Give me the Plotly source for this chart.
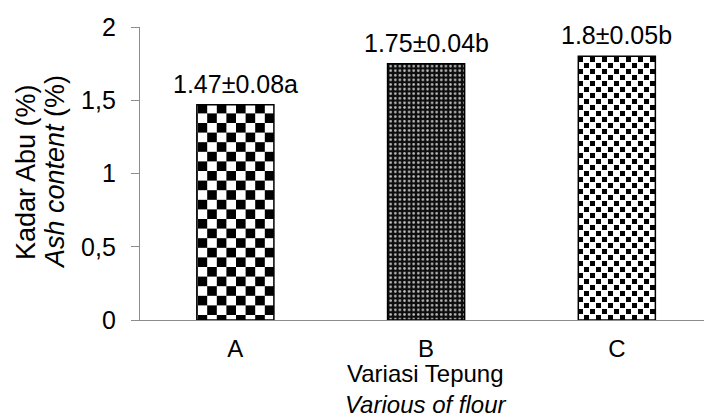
import plotly.graph_objects as go

categories = ["A", "B", "C"]
values = [1.47, 1.75, 1.80]
labels = ["1.47±0.08a", "1.75±0.04b", "1.8±0.05b"]
ytick_vals = [0, 0.5, 1, 1.5, 2]
ytick_text = ["0", "0,5", "1", "1,5", "2"]

FONT = "Liberation Sans, Arial, sans-serif"

# patterns
def checker(s):
    h = s / 2
    return f"M0,0H{h}V{h}H0Z M{h},{h}H{s}V{s}H{h}Z"

def stagger(s, q):
    h = s / 2
    return (f"M0,0H{q}V{q}H0Z M{h},{h}H{h+q}V{h+q}H{h}Z")

pattern_specs = [
    dict(kind="path", path=checker(19.2), size=19.2, fg="black", bg="white", shape="+"),
    dict(kind="shape", shape=".", size=4.6, fg="#bdbdbd", bg="#0d0d0d", solidity=0.25),
    dict(kind="path", path=stagger(12, 5.0), size=12, fg="black", bg="white", shape="."),
]

fig = go.Figure()
for i, cat in enumerate(categories):
    spec = pattern_specs[i]
    pat = dict(fgcolor=spec["fg"], bgcolor=spec["bg"], size=spec["size"], fillmode="replace")
    if spec["kind"] == "path":
        try:
            go.bar.marker.Pattern(path=spec["path"])
            pat["path"] = spec["path"]
            pat["solidity"] = 1
        except Exception:
            pat["shape"] = spec["shape"]
            pat["solidity"] = 0.5
    else:
        pat["shape"] = spec["shape"]
        pat["solidity"] = spec["solidity"]
    fig.add_trace(go.Bar(
        x=[i], y=[values[i]], width=0.404,
        marker=dict(color="white", pattern=pat, line=dict(color="black", width=1.5)),
        showlegend=False, hoverinfo="skip",
    ))
    fig.add_annotation(x=i, y=values[i], text=labels[i], showarrow=False,
                       xref="x", yref="y", yanchor="bottom", yshift=5,
                       font=dict(family=FONT, size=25, color="black"))

fig.update_layout(
    width=704, height=418,
    margin=dict(l=140, r=0, t=27, b=98, autoexpand=False),
    paper_bgcolor="white", plot_bgcolor="white",
    barmode="overlay",
    font=dict(family=FONT, size=24, color="black"),
)
fig.update_xaxes(
    range=[-0.5, 2.457], automargin=False,
    tickmode="array", tickvals=[0, 1, 2], ticktext=categories,
    showline=True, linecolor="#8c8c8c", linewidth=1.3,
    ticks="", showgrid=False, zeroline=False,
    ticklabelstandoff=7,
    tickfont=dict(family=FONT, size=24, color="black"),
)
fig.update_yaxes(
    range=[0, 2], automargin=False,
    tickmode="array", tickvals=ytick_vals, ticktext=ytick_text,
    showline=True, linecolor="#8c8c8c", linewidth=1.3,
    ticks="outside", ticklen=8, tickcolor="#8c8c8c", tickwidth=1.3,
    showgrid=False, zeroline=False,
    ticklabelstandoff=10,
    tickfont=dict(family=FONT, size=25, color="black"),
)

# x-axis title (two lines, one block)
fig.add_annotation(x=1, y=0, xref="x", yref="paper", yanchor="middle",
                   yshift=-(389 - 320),
                   text="Variasi Tepung<br><i>Various of flour</i>", showarrow=False,
                   borderpad=0, font=dict(family=FONT, size=24, color="black"))
# y-axis title (two lines)
fig.add_annotation(x=0, y=0.505, xref="paper", yref="paper", xanchor="center",
                   xshift=-(140 - 26), text="Kadar Abu (%)", textangle=-90, showarrow=False,
                   font=dict(family=FONT, size=27, color="black"))
fig.add_annotation(x=0, y=0.505, xref="paper", yref="paper", xanchor="center",
                   xshift=-(140 - 55), text="<i>Ash content</i> (%)", textangle=-90, showarrow=False,
                   font=dict(family=FONT, size=27, color="black"))

fig.write_html("out.html", config={"displayModeBar": False},
               post_script="document.body.style.margin='0';document.body.style.overflow='hidden';")
